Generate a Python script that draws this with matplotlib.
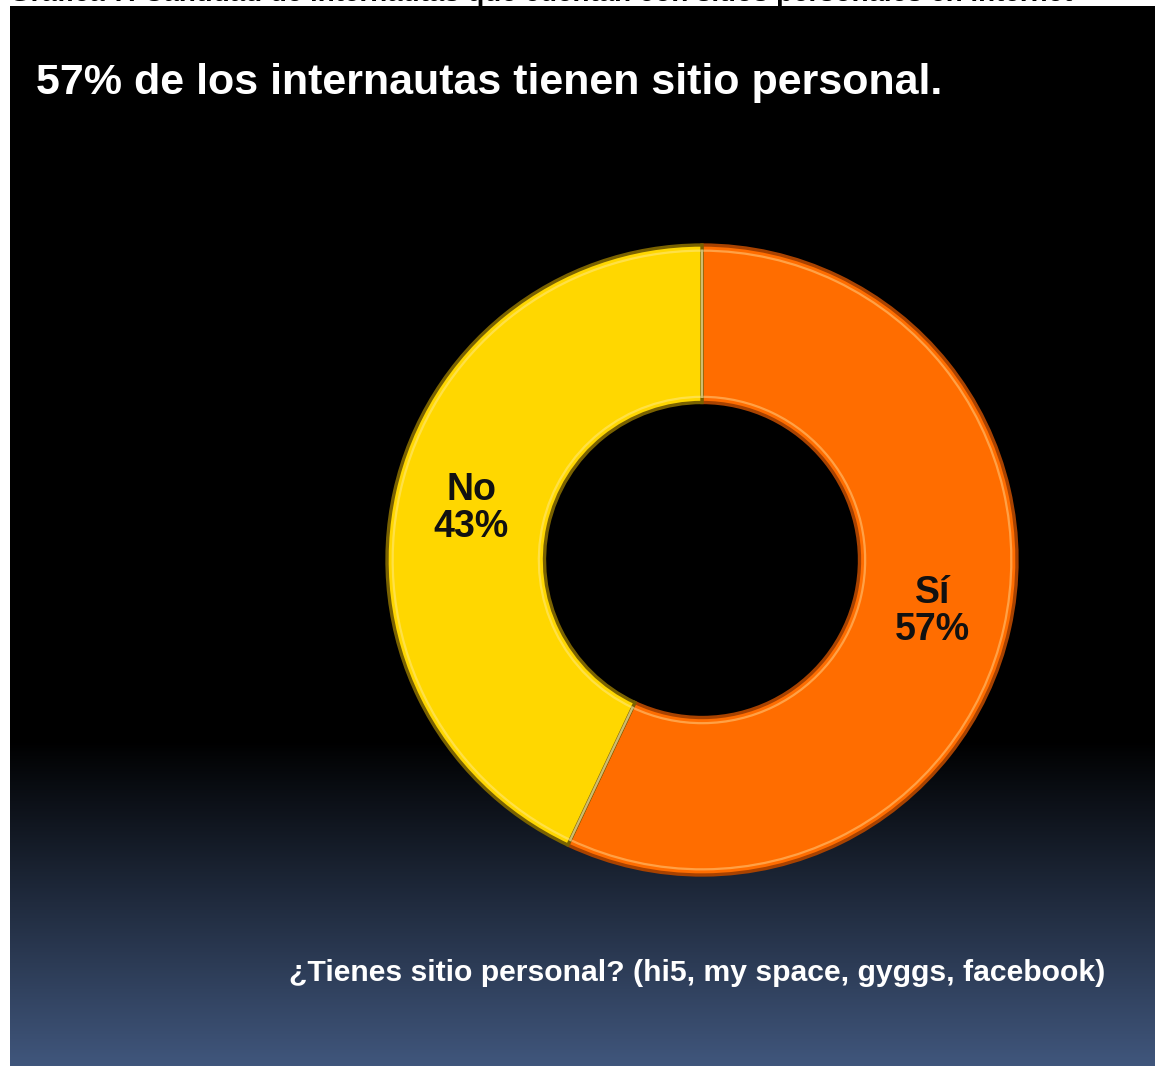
import numpy as np
import matplotlib
matplotlib.use("Agg")
import matplotlib.pyplot as plt

# data
categories = ['Sí', 'No']
values = [57, 43]
slice_colors = ['#ff6d00', '#ffd700']
edge_colors = ['#a84200', '#7a6200']
title = '57% de los internautas tienen sitio personal.'
question = '¿Tienes sitio personal? (hi5, my space, gyggs, facebook)'
caption = 'Gráfica 7. Cantidad de internautas que cuentan con sitios personales en internet'

W, H = 1155, 1066
fig = plt.figure(figsize=(W / 100, H / 100), dpi=100)
fig.patch.set_facecolor('white')

# caption of the page, cut off at the top like in the scan
fig.text(0.008, 1.0 + 6 / H, caption, color='black', fontsize=20, fontweight='bold',
         family='Liberation Sans', va='center', ha='left')

# slide background with gradient
bg = fig.add_axes([10 / W, 0, 1145 / W, 1060 / H])
ys = np.linspace(0, 1060, 400)  # pixels from top of slide
t = np.clip((ys - 735) / (1060 - 735), 0, 1)
top_c = np.array([0, 0, 0])
bot_c = np.array([64, 86, 124]) / 255
grad = (t[:, None] * bot_c[None, :] + (1 - t[:, None]) * top_c[None, :])
grad = np.repeat(grad[:, None, :], 2, axis=1)
bg.imshow(grad, aspect='auto', extent=[0, 1, 0, 1])
bg.set_axis_off()

# donut
cx, cy, R = 702, 560, 315
half = 1.05 * R
ax = fig.add_axes([(cx - half) / W, (H - cy - half) / H, 2 * half / W, 2 * half / H])
# bevel highlight underneath, then the slices
wedges, _ = ax.pie(values, colors=slice_colors, startangle=90, counterclock=False,
                   radius=1.0, wedgeprops=dict(width=0.5, linewidth=2.4))
for w, ec in zip(wedges, edge_colors):
    w.set_edgecolor(ec)
hl, _ = ax.pie(values, colors=['none', 'none'], startangle=90, counterclock=False,
               radius=0.982, wedgeprops=dict(width=0.464, linewidth=1.6, alpha=0.4))
for w in hl:
    w.set_edgecolor('#fff0b0')
    w.set_facecolor('none')

for w, cat, v in zip(wedges, categories, values):
    mid = np.deg2rad((w.theta1 + w.theta2) / 2)
    ax.text(0.75 * np.cos(mid), 0.75 * np.sin(mid), f'{cat}\n{v}%', ha='center', va='center',
            fontsize=27, fontweight='bold', family='Liberation Sans', color='#111111',
            linespacing=1.05)
ax.set_xlim(-1.05, 1.05)
ax.set_ylim(-1.05, 1.05)
ax.set_aspect('equal')
ax.set_axis_off()

fig.text(36 / W, 1 - 83 / H, title, color='white', fontsize=31, fontweight='bold',
         family='Liberation Sans', va='center', ha='left')
fig.text(1105 / W, 1 - 973 / H, question, color='white', fontsize=21.7, fontweight='bold',
         family=['Liberation Sans Narrow', 'Liberation Sans'], va='center', ha='right')

fig.savefig('out.png', dpi=100, facecolor='white')
